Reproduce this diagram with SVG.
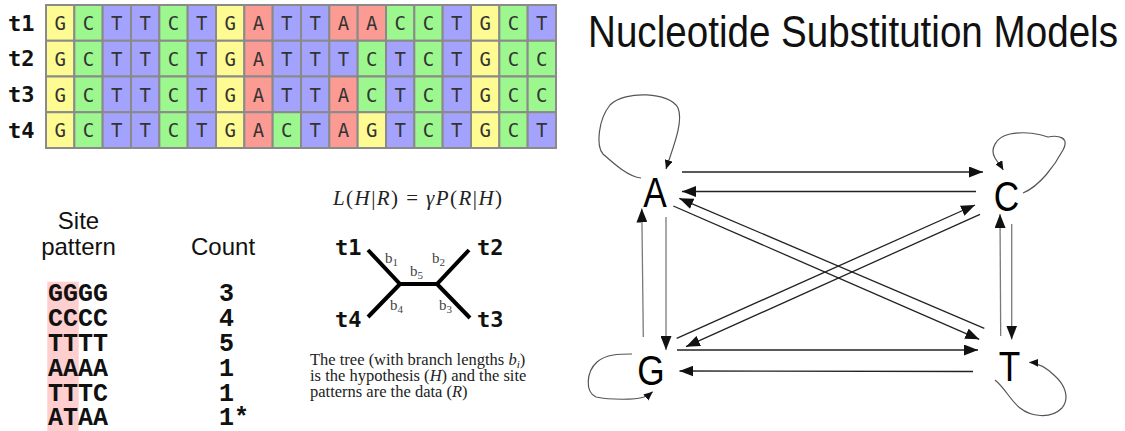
<svg xmlns="http://www.w3.org/2000/svg" width="1125" height="431" viewBox="0 0 1125 431">
<style>
  .cell rect { stroke: #8a8a8a; stroke-width: 2; }
  .a { fill: #fc9b93; } .c { fill: #9df78f; } .g { fill: #fdfb92; } .t { fill: #a3a3fd; }
  .cell text { font-family: "DejaVu Sans Mono", monospace; font-size: 19px; fill: #333; text-anchor: middle; }
  .tl { font-family: "DejaVu Sans Mono", monospace; font-weight: bold; font-size: 22px; fill: #111; }
  .hdr { font-family: "Liberation Sans", Arial, sans-serif; font-size: 24px; fill: #111; }
  .pat { font-family: "Liberation Mono", monospace; font-weight: bold; font-size: 25px; fill: #111; }
  .serif { font-family: "Liberation Serif", "Times New Roman", serif; fill: #222; }
  .it { font-style: italic; }
  .br { font-family: "Liberation Serif", serif; font-size: 15px; fill: #444; }
  .node text { font-family: "Liberation Sans Narrow", "Liberation Sans", Arial, sans-serif; font-size: 42px; fill: #000; text-anchor: middle; }
  .edge { fill: none; stroke: #222; stroke-width: 1.3; marker-end: url(#arr); }
  .edge.v { stroke: #7a7a7a; }
  .loop { fill: none; stroke: #555; stroke-width: 1.2; marker-end: url(#arrs); }
  .branch { stroke: #000; stroke-width: 4; stroke-linecap: butt; fill: none; }
</style>
<defs>
  <marker id="arr" markerUnits="userSpaceOnUse" markerWidth="14" markerHeight="11" viewBox="0 0 14 11" refX="14" refY="5.5" orient="auto">
    <path d="M0,0 L14,5.5 L0,11 z" fill="#111"/>
  </marker>
  <marker id="arrs" markerUnits="userSpaceOnUse" markerWidth="9" markerHeight="8" viewBox="0 0 9 8" refX="9" refY="4" orient="auto">
    <path d="M0,0 L9,4 L0,8 z" fill="#111"/>
  </marker>
</defs>
<rect width="1125" height="431" fill="#fff"/>

<!-- Alignment -->
<g id="alignment">
  <text class="tl" x="8" y="30.5">t1</text>
  <text class="tl" x="8" y="66">t2</text>
  <text class="tl" x="8" y="101.5">t3</text>
  <text class="tl" x="8" y="137.5">t4</text>
  <g class="cell" transform="translate(0,5)">
    <rect class="g" x="46" width="28.33" height="35.75"/><text x="60.17" y="25">G</text>
    <rect class="c" x="74.33" width="28.33" height="35.75"/><text x="88.5" y="25">C</text>
    <rect class="t" x="102.67" width="28.33" height="35.75"/><text x="116.83" y="25">T</text>
    <rect class="t" x="131" width="28.33" height="35.75"/><text x="145.17" y="25">T</text>
    <rect class="c" x="159.33" width="28.33" height="35.75"/><text x="173.5" y="25">C</text>
    <rect class="t" x="187.67" width="28.33" height="35.75"/><text x="201.83" y="25">T</text>
    <rect class="g" x="216" width="28.33" height="35.75"/><text x="230.17" y="25">G</text>
    <rect class="a" x="244.33" width="28.33" height="35.75"/><text x="258.5" y="25">A</text>
    <rect class="t" x="272.67" width="28.33" height="35.75"/><text x="286.83" y="25">T</text>
    <rect class="t" x="301" width="28.33" height="35.75"/><text x="315.17" y="25">T</text>
    <rect class="a" x="329.33" width="28.33" height="35.75"/><text x="343.5" y="25">A</text>
    <rect class="a" x="357.67" width="28.33" height="35.75"/><text x="371.83" y="25">A</text>
    <rect class="c" x="386" width="28.33" height="35.75"/><text x="400.17" y="25">C</text>
    <rect class="c" x="414.33" width="28.33" height="35.75"/><text x="428.5" y="25">C</text>
    <rect class="t" x="442.67" width="28.33" height="35.75"/><text x="456.83" y="25">T</text>
    <rect class="g" x="471" width="28.33" height="35.75"/><text x="485.17" y="25">G</text>
    <rect class="c" x="499.33" width="28.33" height="35.75"/><text x="513.5" y="25">C</text>
    <rect class="t" x="527.67" width="28.33" height="35.75"/><text x="541.83" y="25">T</text>
  </g>
  <g class="cell" transform="translate(0,40.75)">
    <rect class="g" x="46" width="28.33" height="35.75"/><text x="60.17" y="25">G</text>
    <rect class="c" x="74.33" width="28.33" height="35.75"/><text x="88.5" y="25">C</text>
    <rect class="t" x="102.67" width="28.33" height="35.75"/><text x="116.83" y="25">T</text>
    <rect class="t" x="131" width="28.33" height="35.75"/><text x="145.17" y="25">T</text>
    <rect class="c" x="159.33" width="28.33" height="35.75"/><text x="173.5" y="25">C</text>
    <rect class="t" x="187.67" width="28.33" height="35.75"/><text x="201.83" y="25">T</text>
    <rect class="g" x="216" width="28.33" height="35.75"/><text x="230.17" y="25">G</text>
    <rect class="a" x="244.33" width="28.33" height="35.75"/><text x="258.5" y="25">A</text>
    <rect class="t" x="272.67" width="28.33" height="35.75"/><text x="286.83" y="25">T</text>
    <rect class="t" x="301" width="28.33" height="35.75"/><text x="315.17" y="25">T</text>
    <rect class="t" x="329.33" width="28.33" height="35.75"/><text x="343.5" y="25">T</text>
    <rect class="c" x="357.67" width="28.33" height="35.75"/><text x="371.83" y="25">C</text>
    <rect class="t" x="386" width="28.33" height="35.75"/><text x="400.17" y="25">T</text>
    <rect class="c" x="414.33" width="28.33" height="35.75"/><text x="428.5" y="25">C</text>
    <rect class="t" x="442.67" width="28.33" height="35.75"/><text x="456.83" y="25">T</text>
    <rect class="g" x="471" width="28.33" height="35.75"/><text x="485.17" y="25">G</text>
    <rect class="c" x="499.33" width="28.33" height="35.75"/><text x="513.5" y="25">C</text>
    <rect class="c" x="527.67" width="28.33" height="35.75"/><text x="541.83" y="25">C</text>
  </g>
  <g class="cell" transform="translate(0,76.5)">
    <rect class="g" x="46" width="28.33" height="35.75"/><text x="60.17" y="25">G</text>
    <rect class="c" x="74.33" width="28.33" height="35.75"/><text x="88.5" y="25">C</text>
    <rect class="t" x="102.67" width="28.33" height="35.75"/><text x="116.83" y="25">T</text>
    <rect class="t" x="131" width="28.33" height="35.75"/><text x="145.17" y="25">T</text>
    <rect class="c" x="159.33" width="28.33" height="35.75"/><text x="173.5" y="25">C</text>
    <rect class="t" x="187.67" width="28.33" height="35.75"/><text x="201.83" y="25">T</text>
    <rect class="g" x="216" width="28.33" height="35.75"/><text x="230.17" y="25">G</text>
    <rect class="a" x="244.33" width="28.33" height="35.75"/><text x="258.5" y="25">A</text>
    <rect class="t" x="272.67" width="28.33" height="35.75"/><text x="286.83" y="25">T</text>
    <rect class="t" x="301" width="28.33" height="35.75"/><text x="315.17" y="25">T</text>
    <rect class="a" x="329.33" width="28.33" height="35.75"/><text x="343.5" y="25">A</text>
    <rect class="c" x="357.67" width="28.33" height="35.75"/><text x="371.83" y="25">C</text>
    <rect class="t" x="386" width="28.33" height="35.75"/><text x="400.17" y="25">T</text>
    <rect class="c" x="414.33" width="28.33" height="35.75"/><text x="428.5" y="25">C</text>
    <rect class="t" x="442.67" width="28.33" height="35.75"/><text x="456.83" y="25">T</text>
    <rect class="g" x="471" width="28.33" height="35.75"/><text x="485.17" y="25">G</text>
    <rect class="c" x="499.33" width="28.33" height="35.75"/><text x="513.5" y="25">C</text>
    <rect class="c" x="527.67" width="28.33" height="35.75"/><text x="541.83" y="25">C</text>
  </g>
  <g class="cell" transform="translate(0,112.25)">
    <rect class="g" x="46" width="28.33" height="35.75"/><text x="60.17" y="25">G</text>
    <rect class="c" x="74.33" width="28.33" height="35.75"/><text x="88.5" y="25">C</text>
    <rect class="t" x="102.67" width="28.33" height="35.75"/><text x="116.83" y="25">T</text>
    <rect class="t" x="131" width="28.33" height="35.75"/><text x="145.17" y="25">T</text>
    <rect class="c" x="159.33" width="28.33" height="35.75"/><text x="173.5" y="25">C</text>
    <rect class="t" x="187.67" width="28.33" height="35.75"/><text x="201.83" y="25">T</text>
    <rect class="g" x="216" width="28.33" height="35.75"/><text x="230.17" y="25">G</text>
    <rect class="a" x="244.33" width="28.33" height="35.75"/><text x="258.5" y="25">A</text>
    <rect class="c" x="272.67" width="28.33" height="35.75"/><text x="286.83" y="25">C</text>
    <rect class="t" x="301" width="28.33" height="35.75"/><text x="315.17" y="25">T</text>
    <rect class="a" x="329.33" width="28.33" height="35.75"/><text x="343.5" y="25">A</text>
    <rect class="g" x="357.67" width="28.33" height="35.75"/><text x="371.83" y="25">G</text>
    <rect class="t" x="386" width="28.33" height="35.75"/><text x="400.17" y="25">T</text>
    <rect class="c" x="414.33" width="28.33" height="35.75"/><text x="428.5" y="25">C</text>
    <rect class="t" x="442.67" width="28.33" height="35.75"/><text x="456.83" y="25">T</text>
    <rect class="g" x="471" width="28.33" height="35.75"/><text x="485.17" y="25">G</text>
    <rect class="c" x="499.33" width="28.33" height="35.75"/><text x="513.5" y="25">C</text>
    <rect class="t" x="527.67" width="28.33" height="35.75"/><text x="541.83" y="25">T</text>
  </g>
</g>

<!-- Site patterns table -->
<g id="site-patterns">
  <rect x="47.3" y="281.7" width="31.4" height="149.3" fill="#ffcfcf"/>
  <text class="hdr" x="78.5" y="229" text-anchor="middle">Site</text>
  <text class="hdr" x="78.5" y="255" text-anchor="middle">pattern</text>
  <text class="hdr" x="191" y="255">Count</text>
  <text class="pat" x="48" y="301">GGGG</text>
  <text class="pat" x="48" y="326">CCCC</text>
  <text class="pat" x="48" y="351">TTTT</text>
  <text class="pat" x="48" y="376">AAAA</text>
  <text class="pat" x="48" y="401">TTTC</text>
  <text class="pat" x="48" y="425">ATAA</text>
  <text class="pat" x="219" y="301">3</text>
  <text class="pat" x="219" y="326">4</text>
  <text class="pat" x="219" y="351">5</text>
  <text class="pat" x="219" y="376">1</text>
  <text class="pat" x="219" y="401">1</text>
  <text class="pat" x="219" y="425">1*</text>
</g>

<!-- Tree and likelihood -->
<g id="tree">
  <text class="serif" x="333" y="205" font-size="21" textLength="169" lengthAdjust="spacing"><tspan class="it">L</tspan>(<tspan class="it">H</tspan>|<tspan class="it">R</tspan>) = <tspan class="it">γP</tspan>(<tspan class="it">R</tspan>|<tspan class="it">H</tspan>)</text>
  <path class="branch" d="M368,250 L400,284 L437,284 L469,250 M400,284 L368,317 M437,284 L470,318"/>
  <text class="tl" x="335" y="255">t1</text>
  <text class="tl" x="477" y="255">t2</text>
  <text class="tl" x="335" y="327">t4</text>
  <text class="tl" x="477" y="327">t3</text>
  <text class="br" x="385" y="263">b<tspan font-size="11" dy="3">1</tspan></text>
  <text class="br" x="432" y="263">b<tspan font-size="11" dy="3">2</tspan></text>
  <text class="br" x="410" y="276">b<tspan font-size="11" dy="3">5</tspan></text>
  <text class="br" x="390" y="310">b<tspan font-size="11" dy="3">4</tspan></text>
  <text class="br" x="439" y="310">b<tspan font-size="11" dy="3">3</tspan></text>
  <text class="serif" font-size="16.5" x="310" y="365">The tree (with branch lengths <tspan class="it">b</tspan><tspan class="it" font-size="11" dy="3">i</tspan><tspan dy="-3">)</tspan></text>
  <text class="serif" font-size="16.5" x="310" y="381">is the hypothesis (<tspan class="it">H</tspan>) and the site</text>
  <text class="serif" font-size="16.5" x="310" y="397">patterns are the data (<tspan class="it">R</tspan>)</text>
</g>

<!-- Title -->
<text x="588" y="47" font-family="'Liberation Sans Narrow', 'Liberation Sans', Arial, sans-serif" font-size="45" fill="#111" textLength="530" lengthAdjust="spacingAndGlyphs">Nucleotide Substitution Models</text>

<!-- Substitution graph -->
<g id="connectors">
  <path class="edge" d="M682,172 L983,172"/>
  <path class="edge" d="M976,191.5 L682,191.5"/>
  <path class="edge v" d="M666,217 L666,350"/>
  <path class="edge v" d="M643.3,337 L641.8,208.5"/>
  <path class="edge v" d="M1011.7,224 L1011.7,339.5"/>
  <path class="edge v" d="M1000.7,336 L1000,214"/>
  <path class="edge" d="M677,350 L978,350"/>
  <path class="edge" d="M973,371.5 L679.5,371"/>
  <path class="edge" d="M673.3,206 L979.3,339.3"/>
  <path class="edge" d="M984.3,328.3 L679.3,198.3"/>
  <path class="edge" d="M980,214.3 L686,346.7"/>
  <path class="edge" d="M676.7,338.3 L975,205"/>
  <path class="loop" d="M641,178 C628,177 612,162 603,154 C596,146 598,120 610,105 C625,90 670,92 678,108 C684,122 672,150 666,169"/>
  <path class="loop" d="M1023,193 C1040,186 1055,165 1063,150 C1070,137 1058,135 1048,137 C1040,134 1025,131 1010,134 C995,137 990,150 995,158 C998,163 1001,166 1003.3,170"/>
  <path class="loop" d="M632,354 C620,354 606,354 597,362 C586,372 585,392 596,397 C610,400 635,400 644,397 C648,395 650,394 652.7,391.7"/>
  <path class="loop" d="M995,380 C1005,388 1010,400 1020,408 C1030,416 1050,420 1062,408 C1070,398 1065,385 1055,376 C1048,369 1040,363 1029.3,362.3"/>
</g>
<g id="node-A" class="node"><text transform="translate(655 207) scale(0.84 1)">A</text></g>
<g id="node-C" class="node"><text transform="translate(1006.5 211) scale(0.84 1)">C</text></g>
<g id="node-G" class="node"><text transform="translate(651 385) scale(0.84 1)">G</text></g>
<g id="node-T" class="node"><text transform="translate(1009.5 381) scale(0.84 1)">T</text></g>
</svg>
